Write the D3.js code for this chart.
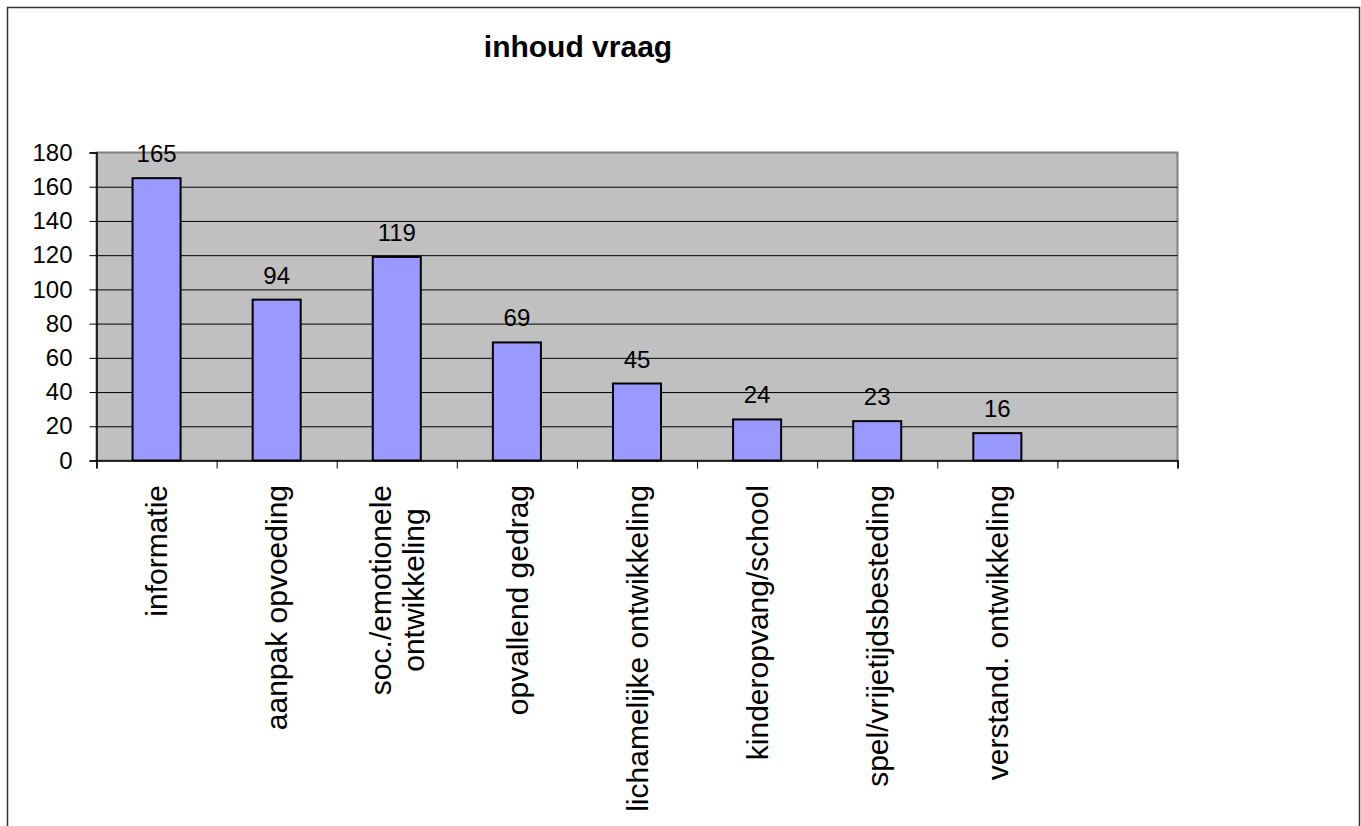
<!DOCTYPE html>
<html>
<head>
<meta charset="utf-8">
<script src="https://cdn.jsdelivr.net/npm/d3@7"></script>
<style>
  html, body { margin: 0; padding: 0; background: #fff; }
  svg { display: block; }
  text { font-family: "Liberation Sans", Arial, sans-serif; fill: #000; }
</style>
</head>
<body>
<svg id="chart" width="1361" height="826"></svg>
<script>
const title = "inhoud vraag";
const categories = [
  ["informatie"],
  ["aanpak opvoeding"],
  ["soc./emotionele", "ontwikkeling"],
  ["opvallend gedrag"],
  ["lichamelijke ontwikkeling"],
  ["kinderopvang/school"],
  ["spel/vrijetijdsbesteding"],
  ["verstand. ontwikkeling"],
  [""]
];
const values = [165, 94, 119, 69, 45, 24, 23, 16, null];
const yTicks = [0, 20, 40, 60, 80, 100, 120, 140, 160, 180];

(function () {
const svg = d3.select("#chart");

// outer frame
svg.append("rect")
  .attr("x", 7.5).attr("y", 7.5)
  .attr("width", 1352).attr("height", 840)
  .attr("fill", "#fff").attr("stroke", "#333").attr("stroke-width", 1.5);

const pL = 96.5, pR = 1177.5, pT = 152.5, pB = 460.5;

const x = d3.scaleBand()
  .domain(d3.range(categories.length))
  .range([pL, pR])
  .paddingInner(0.6)
  .paddingOuter(0.3);

const xEdges = d3.scaleLinear().domain([0, categories.length]).range([pL, pR]);

const y = d3.scaleLinear().domain([0, 180]).range([pB, pT]);

// plot area
svg.append("rect")
  .attr("x", pL).attr("y", pT)
  .attr("width", pR - pL).attr("height", pB - pT)
  .attr("fill", "#C0C0C0").attr("stroke", "#808080").attr("stroke-width", 2);

// gridlines
const grid = svg.append("g")
  .attr("transform", `translate(${pL},0)`)
  .call(d3.axisLeft(y).tickValues(yTicks.filter(v => v > 0 && v < 180)).tickSize(-(pR - pL)).tickFormat(""));
grid.select(".domain").remove();
grid.selectAll("line").attr("stroke", "#000").attr("stroke-width", 1);

const pts = values.map((v, i) => ({v, i})).filter(d => d.v != null);

// bars
svg.append("g").selectAll("rect")
  .data(pts)
  .join("rect")
  .attr("x", d => x(d.i))
  .attr("width", x.bandwidth())
  .attr("y", d => y(d.v))
  .attr("height", d => y(0) - y(d.v))
  .attr("fill", "#9999FF")
  .attr("stroke", "#000")
  .attr("stroke-width", 2);

// value labels
svg.append("g").selectAll("text")
  .data(pts)
  .join("text")
  .attr("x", d => x(d.i) + x.bandwidth() / 2)
  .attr("y", d => y(d.v) - 16)
  .attr("text-anchor", "middle")
  .attr("font-size", 24)
  .text(d => d.v);

// y axis
const yAxis = svg.append("g")
  .attr("transform", `translate(${pL},0)`)
  .call(d3.axisLeft(y).tickValues(yTicks).tickSize(7).tickPadding(17));
yAxis.select(".domain").attr("stroke", "#000").attr("stroke-width", 1.5);
yAxis.selectAll("line").attr("stroke", "#000");
yAxis.selectAll("text").attr("font-size", 24).attr("font-family", "Liberation Sans, Arial, sans-serif").attr("fill", "#000");

// x axis (ticks at category boundaries)
const xAxis = svg.append("g")
  .attr("transform", `translate(0,${pB})`)
  .call(d3.axisBottom(xEdges).tickValues(d3.range(categories.length + 1)).tickSize(8).tickFormat(""));
xAxis.select(".domain").attr("stroke", "#000").attr("stroke-width", 1.5);
xAxis.selectAll("line").attr("stroke", "#000");

// category labels, rotated
const labelTop = 485, fs = 30, lineH = 33;
categories.forEach((lines, i) => {
  const cx = x(i) + x.bandwidth() / 2;
  const g = svg.append("g");
  const texts = lines.map((ln) => g.append("text")
      .attr("font-size", fs)
      .attr("text-anchor", "middle")
      .attr("dy", "0.36em")
      .text(ln));
  const maxLen = d3.max(texts, t => t.node().getComputedTextLength());
  const n = lines.length;
  texts.forEach((t, k) => {
    const off = (k - (n - 1) / 2) * lineH;
    t.attr("transform", `translate(${cx + off},${labelTop + maxLen / 2}) rotate(-90)`);
  });
});

// title
svg.append("text")
  .attr("x", 578).attr("y", 57)
  .attr("text-anchor", "middle")
  .attr("font-size", 30)
  .attr("font-weight", "bold")
  .text(title);
})();
</script>
</body>
</html>
